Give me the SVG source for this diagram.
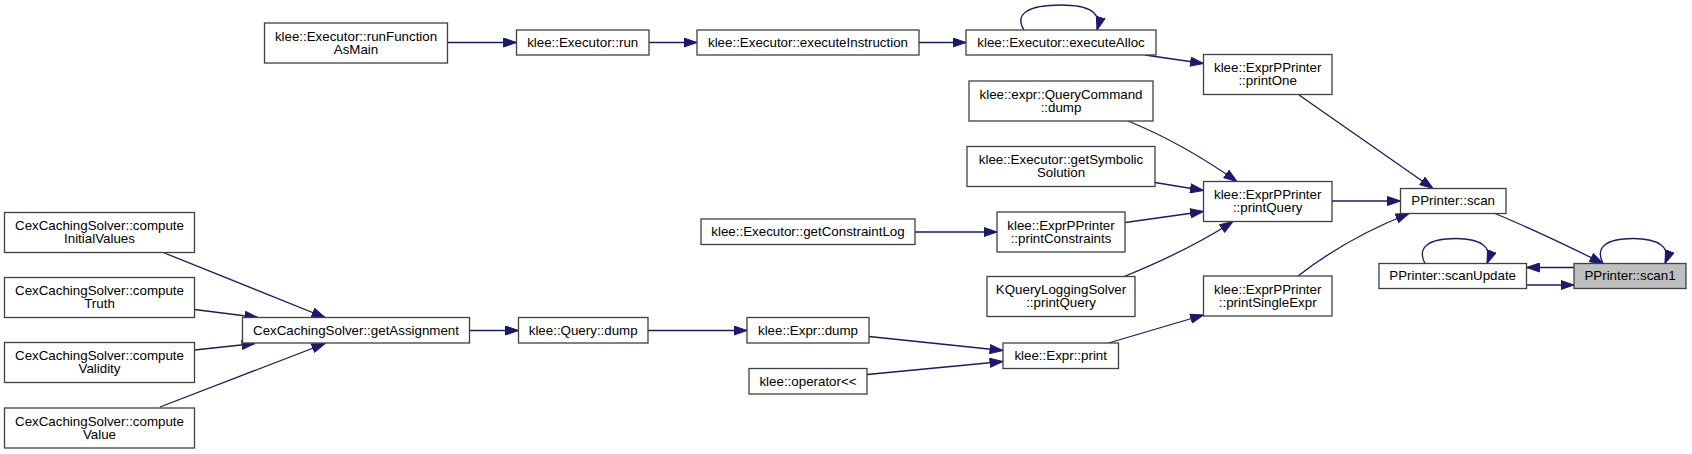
<svg xmlns="http://www.w3.org/2000/svg" width="1692" height="454" viewBox="0 0 1692 454">
<style>
.n rect{fill:#fff;stroke:#404040;stroke-width:1.3}
.n.sel rect{fill:#bfbfbf;stroke:#404040}
.n text{font-family:"Liberation Sans",Arial,Helvetica,sans-serif;font-size:13.33px;fill:#000;text-anchor:middle}
.e path{fill:none;stroke:#191970;stroke-width:1.3;marker-end:url(#ah)}
</style>
<defs>
<marker id="ah" markerUnits="userSpaceOnUse" viewBox="0 0 14 10" refX="13.5" refY="5" markerWidth="14" markerHeight="10" orient="auto">
<path d="M0.5,0.5 L13.5,5 L0.5,9.5 Z" fill="#191970" stroke="#191970" stroke-width="1"/>
</marker>
</defs>
<rect width="1692" height="454" fill="#fff"/>
<g id="edges" class="e">
<path d="M447.5,42.5 L516.5,42.5"/>
<path d="M649,42.5 L697,42.5"/>
<path d="M919,42.5 L966,42.5"/>
<path d="M1024,30 C1014,14 1028,5 1061,5 C1090,5 1102,13 1097,30"/>
<path d="M1145,55 L1203.5,63.5"/>
<path d="M1128,121 C1160,134 1195,152 1237,181.5"/>
<path d="M1155,182.5 L1203.5,190.5"/>
<path d="M915,232 L997,232"/>
<path d="M1125.3,222.5 L1203.5,211.5"/>
<path d="M1123,277 C1160,262 1200,243 1233,221.5"/>
<path d="M1332,201 L1400.5,201"/>
<path d="M1299,95 L1433,188.5"/>
<path d="M1298,276 C1330,251 1370,229 1409,213.5"/>
<path d="M1495,213.5 C1530,228 1570,247 1603,263.5"/>
<path d="M1574,267.5 L1526.5,267.5"/>
<path d="M1526.5,285 L1574,285"/>
<path d="M1425,263.5 C1417,248 1427,238.5 1456,238.5 C1482,238.5 1493,248 1487,263.5"/>
<path d="M1603,263.5 C1595,248 1605,238.5 1633,238.5 C1660,238.5 1671,248 1665,263.5"/>
<path d="M162,252 L325,317.5"/>
<path d="M194.5,309.5 L258,317.5"/>
<path d="M194.5,350 L255,343.5"/>
<path d="M160,407 L325,343.5"/>
<path d="M469.5,330.5 L518.5,330.5"/>
<path d="M648,330.5 L747,330.5"/>
<path d="M869,336.5 L1003,350.5"/>
<path d="M867,374.5 L1003,361.5"/>
<path d="M1108.5,343 L1203.5,315"/>
</g>
<g id="runFunctionAsMain" class="n"><rect x="264.5" y="23" width="183" height="40"/><text x="356" y="40.5">klee::Executor::runFunction</text><text x="356" y="53.8">AsMain</text></g>
<g id="run" class="n"><rect x="516.5" y="30" width="132.5" height="25"/><text x="582.7" y="46.8">klee::Executor::run</text></g>
<g id="executeInstruction" class="n"><rect x="697" y="30" width="222" height="25"/><text x="808" y="46.8">klee::Executor::executeInstruction</text></g>
<g id="executeAlloc" class="n"><rect x="966" y="30" width="190" height="25"/><text x="1061" y="46.8">klee::Executor::executeAlloc</text></g>
<g id="printOne" class="n"><rect x="1203.5" y="54.5" width="128.5" height="40"/><text x="1267.7" y="72">klee::ExprPPrinter</text><text x="1267.7" y="85.3">::printOne</text></g>
<g id="queryCommandDump" class="n"><rect x="969" y="81" width="184" height="40"/><text x="1061" y="98.5">klee::expr::QueryCommand</text><text x="1061" y="111.8">::dump</text></g>
<g id="getSymbolicSolution" class="n"><rect x="967" y="146.5" width="188" height="40"/><text x="1061" y="164">klee::Executor::getSymbolic</text><text x="1061" y="177.3">Solution</text></g>
<g id="printQuery" class="n"><rect x="1203.5" y="181.5" width="128.5" height="40"/><text x="1267.7" y="199">klee::ExprPPrinter</text><text x="1267.7" y="212.3">::printQuery</text></g>
<g id="getConstraintLog" class="n"><rect x="701" y="219" width="214" height="25.5"/><text x="808" y="236">klee::Executor::getConstraintLog</text></g>
<g id="printConstraints" class="n"><rect x="997" y="212" width="128" height="40"/><text x="1061" y="229.5">klee::ExprPPrinter</text><text x="1061" y="242.8">::printConstraints</text></g>
<g id="kqueryPrintQuery" class="n"><rect x="987" y="276.5" width="148" height="40"/><text x="1061" y="294">KQueryLoggingSolver</text><text x="1061" y="307.3">::printQuery</text></g>
<g id="printSingleExpr" class="n"><rect x="1203.5" y="276" width="128.5" height="40"/><text x="1267.7" y="293.5">klee::ExprPPrinter</text><text x="1267.7" y="306.8">::printSingleExpr</text></g>
<g id="scan" class="n"><rect x="1400.5" y="188.5" width="105.5" height="25"/><text x="1453.2" y="205.3">PPrinter::scan</text></g>
<g id="scanUpdate" class="n"><rect x="1379" y="263.5" width="147.5" height="25"/><text x="1452.7" y="280.3">PPrinter::scanUpdate</text></g>
<g id="scan1" class="n sel"><rect x="1574" y="263.5" width="112" height="25"/><text x="1630" y="280.3">PPrinter::scan1</text></g>
<g id="computeInitialValues" class="n"><rect x="4.5" y="212.5" width="190" height="40"/><text x="99.5" y="230">CexCachingSolver::compute</text><text x="99.5" y="243.3">InitialValues</text></g>
<g id="computeTruth" class="n"><rect x="4.5" y="277.5" width="190" height="40"/><text x="99.5" y="295">CexCachingSolver::compute</text><text x="99.5" y="308.3">Truth</text></g>
<g id="computeValidity" class="n"><rect x="4.5" y="342.5" width="190" height="40"/><text x="99.5" y="360">CexCachingSolver::compute</text><text x="99.5" y="373.3">Validity</text></g>
<g id="computeValue" class="n"><rect x="4.5" y="408" width="190" height="40"/><text x="99.5" y="425.5">CexCachingSolver::compute</text><text x="99.5" y="438.8">Value</text></g>
<g id="getAssignment" class="n"><rect x="242.5" y="317.5" width="227" height="25.5"/><text x="356" y="334.5">CexCachingSolver::getAssignment</text></g>
<g id="queryDump" class="n"><rect x="518.5" y="317.5" width="129.5" height="25.5"/><text x="583.2" y="334.5">klee::Query::dump</text></g>
<g id="exprDump" class="n"><rect x="747" y="317.5" width="122" height="25.5"/><text x="808" y="334.5">klee::Expr::dump</text></g>
<g id="exprPrint" class="n"><rect x="1003" y="343" width="115.5" height="25.5"/><text x="1060.7" y="360">klee::Expr::print</text></g>
<g id="operatorShl" class="n"><rect x="749" y="368.5" width="118" height="25.5"/><text x="808" y="385.5">klee::operator&lt;&lt;</text></g>
</svg>
